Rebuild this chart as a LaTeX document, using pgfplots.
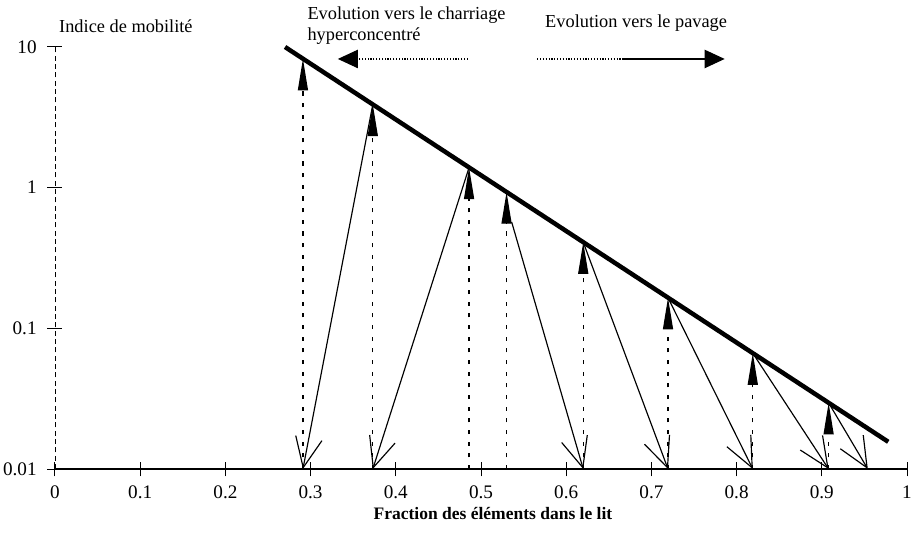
\documentclass[border=0pt]{standalone}
\usepackage{fontspec}
\setmainfont{Liberation Serif}
\usepackage{pgfplots}
\pgfplotsset{compat=1.18}
\usetikzlibrary{arrows.meta}

\begin{document}
\begin{tikzpicture}[font=\fontsize{11}{13}\selectfont]
\useasboundingbox (-33pt,-42.6pt) rectangle (513.6pt,281.4pt);
\begin{axis}[
  at={(0,0)}, anchor=south west,
  scale only axis, width=511.2pt, height=253.2pt,
  xmin=0, xmax=1, ymode=log, ymin=0.01, ymax=10,
  axis x line=bottom, axis y line=left,
  every outer x axis line/.append style={-},
  every outer y axis line/.append style={-},
  x axis line style={-, line width=0.9pt},
  y axis line style={-, densely dashed, line width=0.5pt},
  xtick={0,0.1,0.2,0.3,0.4,0.5,0.6,0.7,0.8,0.9,1},
  xticklabels={0,0.1,0.2,0.3,0.4,0.5,0.6,0.7,0.8,0.9,1},
  ytick={0.01,0.1,1,10}, yticklabels={0.01,0.1,1,10},
  yminorticks=false,
  tick align=center, major tick length=9pt,
  tick style={black, line width=0.6pt},
  xticklabel style={font=\fontsize{11.5}{13}\selectfont, yshift=-2pt},
  yticklabel style={font=\fontsize{11.5}{13}\selectfont, xshift=-3pt},
  /pgf/number format/assume math mode=true,
  clip=false,
  xlabel={\textbf{Fraction des éléments dans le lit}},
  every axis x label/.style={at={(axis description cs:0.514,0)}, anchor=base, yshift=-30pt, font=\fontsize{10.5}{12}\selectfont},
  ylabel={Indice de mobilité},
  every axis y label/.style={at={(axis description cs:0,1)}, anchor=base west, xshift=-1pt, yshift=8.4pt},
  vert/.style={line width=0.8pt, dash pattern=on 2.5pt off 4.5pt, -{Triangle[length=19pt,width=6pt]}},
  down/.style={line width=0.7pt, -{Straight Barb[length=18pt,width=16pt,line width=0.7pt]}},
]
% thick trend line
\addplot[line width=2.7pt] coordinates {(0.270,10) (0.978,0.0156)};

% vertical dashed arrows up to the line
\addplot[vert] coordinates {(0.291,0.01) (0.291,8.25)};
\addplot[vert] coordinates {(0.373,0.01) (0.373,3.905)};
\addplot[vert] coordinates {(0.486,0.01) (0.486,1.392)};
\addplot[vert] coordinates {(0.530,0.01) (0.530,0.931)};
\addplot[vert] coordinates {(0.620,0.01) (0.620,0.4095)};
\addplot[vert] coordinates {(0.7195,0.01) (0.7195,0.1651)};
\addplot[vert] coordinates {(0.819,0.01) (0.819,0.0666)};
\addplot[vert] coordinates {(0.908,0.01) (0.908,0.02954)};

% solid arrows from the line down to the axis
\addplot[down] coordinates {(0.373,3.905) (0.291,0.01)};
\addplot[down] coordinates {(0.486,1.392) (0.373,0.01)};
\addplot[down] coordinates {(0.536,0.570) (0.620,0.01)};
\addplot[down] coordinates {(0.620,0.4095) (0.7195,0.01)};
\addplot[down] coordinates {(0.7195,0.1651) (0.819,0.01)};
\addplot[down] coordinates {(0.819,0.0666) (0.908,0.01)};
\addplot[down] coordinates {(0.908,0.02954) (0.954,0.01)};

% evolution arrows
\addplot[densely dotted, line width=0.7pt, -{Triangle[length=12pt,width=11pt]}] coordinates {(0.4847,8.22) (0.332,8.22)};
\addplot[densely dotted, line width=0.7pt] coordinates {(0.566,8.22) (0.667,8.22)};
\addplot[line width=0.7pt, -{Triangle[length=12pt,width=11pt]}] coordinates {(0.667,8.22) (0.786,8.22)};

\node[anchor=base west, inner sep=0] at (axis cs:0.296,15.56) {Evolution vers le charriage};
\node[anchor=base west, inner sep=0] at (axis cs:0.296,11.21) {hyperconcentré};
\node[anchor=base west, inner sep=0] at (axis cs:0.575,13.87) {Evolution vers le pavage};
\end{axis}
\end{tikzpicture}
\end{document}
